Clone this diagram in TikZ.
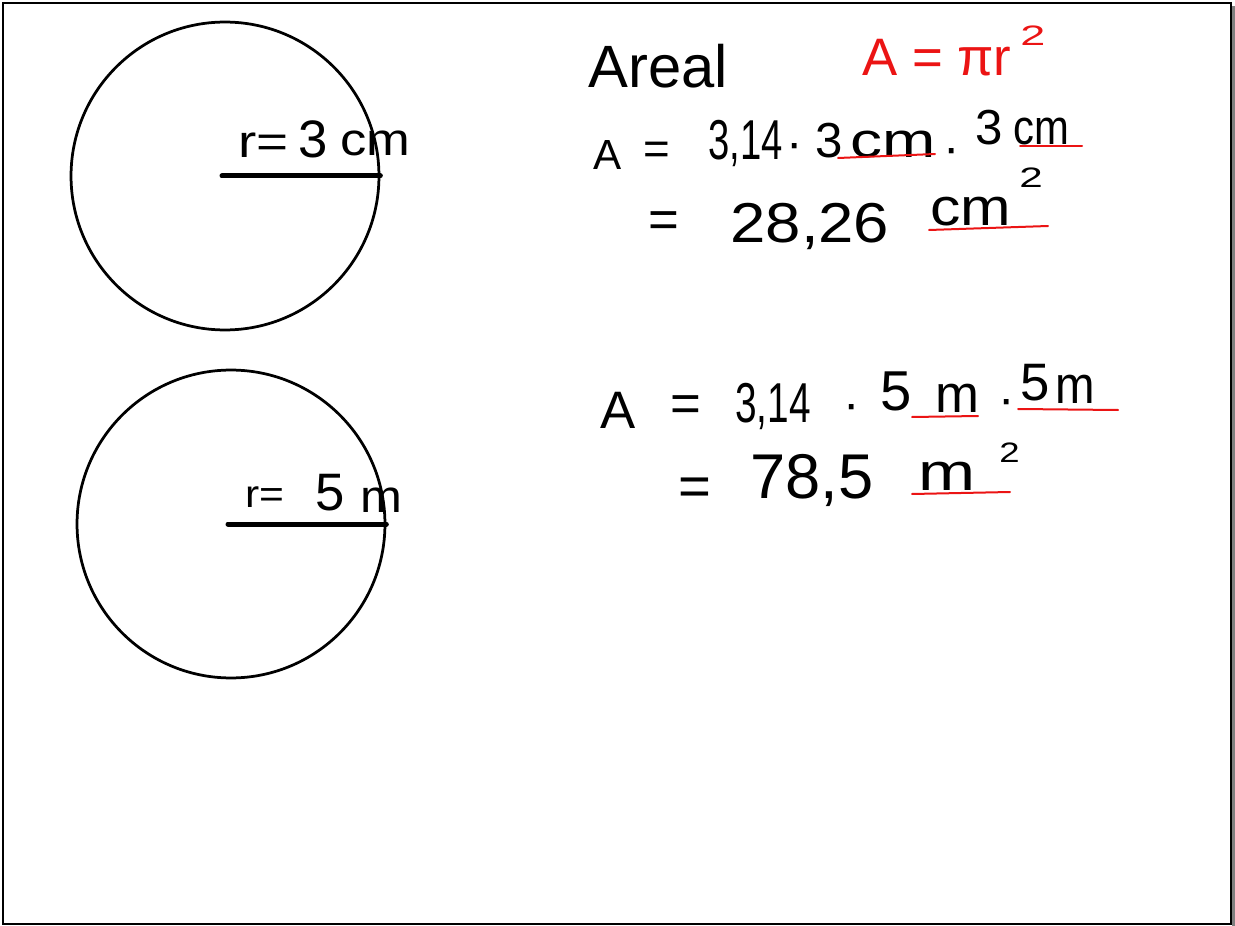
\documentclass[tikz,border=0pt]{standalone}
\usepackage{fontspec}
\setmainfont{Liberation Sans}
\definecolor{inkred}{RGB}{235,20,20}
\definecolor{shadow}{RGB}{128,128,128}
\newcommand{\fs}[1]{\fontsize{#1}{#1}\selectfont}
\begin{document}
\begin{tikzpicture}[x=0.02cm,y=-0.02cm,
  tok/.style={inner sep=0pt,anchor=base west},
  red ul/.style={draw=inkred,line width=0.04cm,line cap=round}]
\useasboundingbox (0,0) rectangle (1235,926);
% frame
\fill[shadow] (1232,6) rectangle (1235,926);
\draw[line width=0.045cm] (3,3) rectangle (1231,924);
% circles
\node[circle,draw,line width=0.055cm,minimum size=6.16cm,inner sep=0pt] (c1) at (225,176) {};
\node[circle,draw,line width=0.055cm,minimum size=6.16cm,inner sep=0pt] (c2) at (231,524) {};
\coordinate (r1) at (222,176);
\coordinate (r2) at (228,524);
\draw[line width=0.1cm,line cap=round] (r1) -- (c1.east);
\draw[line width=0.1cm,line cap=round] (r2) -- (c2.east);
% radius labels
\begin{scope}[every node/.style={tok}]
\node[font=\fs{26}] (l1a) at (238,158) {\scalebox{1.2}[1]{r=}};
\node[font=\fs{30}] (l1b) at (298,157) {3};
\node[font=\fs{26}] (l1c) at (340,155) {\scalebox{1.15}[1]{cm}};
\node[font=\fs{22}] (l2a) at (245,507) {\scalebox{1.1}[1]{r=}};
\node[font=\fs{30}] (l2b) at (315,510) {5};
\node[font=\fs{26}] (l2c) at (360,512) {\scalebox{1.1}[1]{m}};
\end{scope}
% Areal and formula
\node[tok,font=\fs{34}] (areal) at (588,88) {Areal};
\node[tok,font=\fs{30},text=inkred] (f) at (862,76) {A = \char"03C0r};
\node[tok,font=\fs{16},text=inkred] (f2) at (1020,46) {\scalebox{1.6}[1]{2}};
% line 1
\begin{scope}[every node/.style={tok}]
\node[font=\fs{24}] (a1) at (593,170) {A};
\node[font=\fs{26}] (e1) at (643,165) {=};
\node[font=\fs{32}] (n1) at (708,160) {\scalebox{0.68}[1]{3,14}};
\node[font=\fs{28}] (d1) at (786,160) {·};
\node[font=\fs{28}] (m1a) at (815,158) {3};
\node[font=\fs{28}] (m1b) at (850,158) {\scalebox{1.3}[1]{cm}};
\node[font=\fs{28}] (d2) at (943,165) {·};
\node[font=\fs{28}] (m2a) at (975,145) {3};
\node[font=\fs{28}] (m2b) at (1013,145) {\scalebox{0.85}[1]{cm}};
\end{scope}
\draw[red ul] (838,158) -- (935,154);
\draw[red ul] (1020,146) -- (1082,146);
% line 2
\begin{scope}[every node/.style={tok}]
\node[font=\fs{30}] (e2) at (648,237) {=};
\node[font=\fs{32}] (n2) at (730,242) {\scalebox{1.13}[1]{28,26}};
\node[font=\fs{30}] (u2) at (930,226) {\scalebox{1.15}[1]{cm}};
\node[font=\fs{16}] (u2s) at (1019,188) {\scalebox{1.5}[1]{2}};
\end{scope}
\draw[red ul] (929,230) -- (1048,226);
% line 3
\begin{scope}[every node/.style={tok}]
\node[font=\fs{30}] (a3) at (600,428) {A};
\node[font=\fs{30}] (e3) at (670,421) {=};
\node[font=\fs{32}] (n3) at (735,422) {\scalebox{0.69}[1]{3,14}};
\node[font=\fs{28}] (d3) at (843,420) {·};
\node[font=\fs{32}] (m3a) at (880,410) {5};
\node[font=\fs{30}] (m3b) at (935,412) {m};
\node[font=\fs{28}] (d4) at (998,415) {·};
\node[font=\fs{30}] (m4a) at (1020,400) {5};
\node[font=\fs{30}] (m4b) at (1055,403) {\scalebox{0.9}[1]{m}};
\end{scope}
\draw[red ul] (912,417) -- (978,416);
\draw[red ul] (1018,409) -- (1118,410);
% line 4
\begin{scope}[every node/.style={tok}]
\node[font=\fs{32}] (e4) at (678,505) {=};
\node[font=\fs{36}] (n4) at (750,498) {78,5};
\node[font=\fs{30}] (u4) at (918,490) {\scalebox{1.3}[1]{m}};
\node[font=\fs{16}] (u4s) at (999,462) {\scalebox{1.3}[1]{2}};
\end{scope}
\draw[red ul] (912,494) -- (1010,492);
\end{tikzpicture}
\end{document}
